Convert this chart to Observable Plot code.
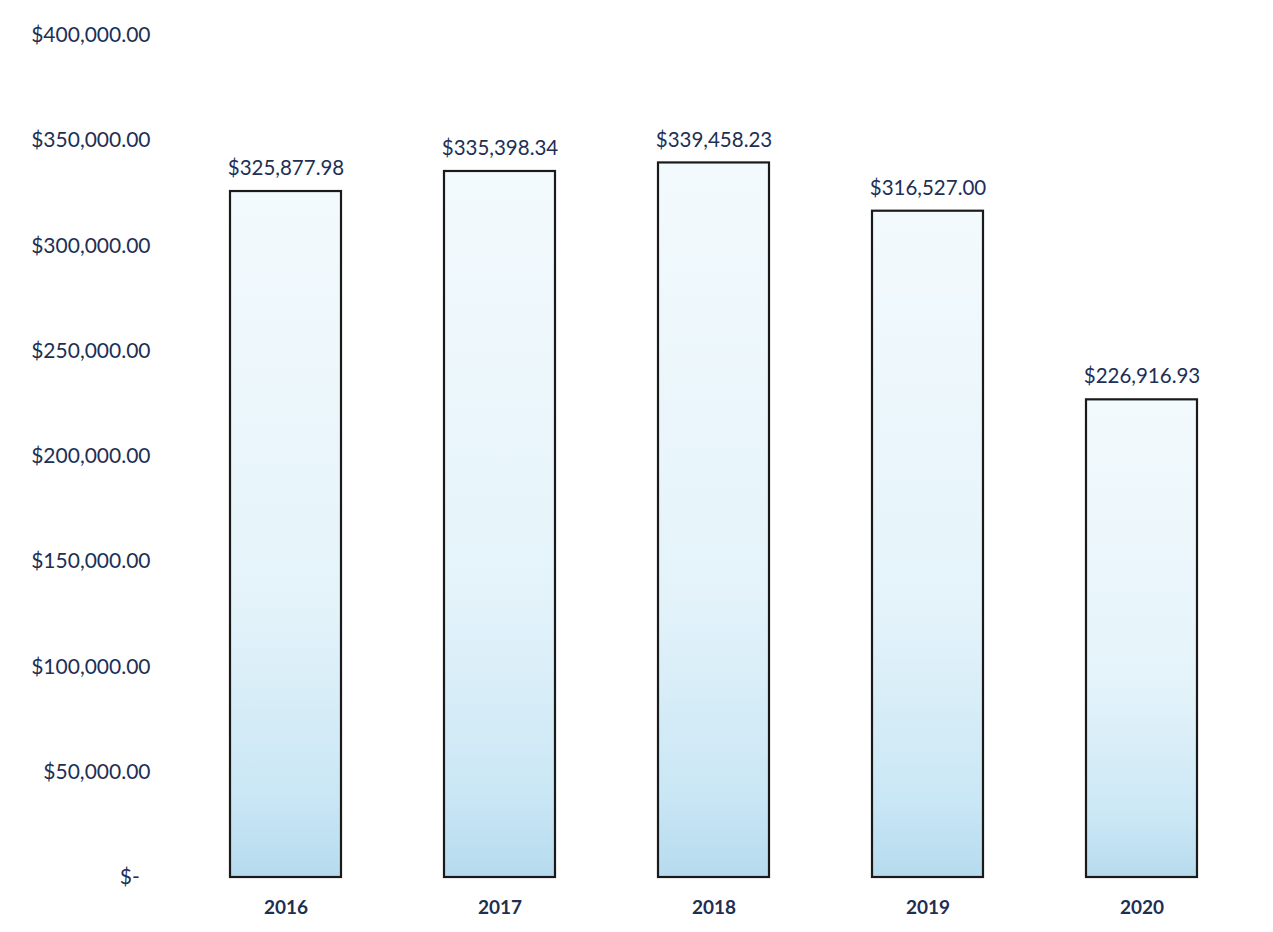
<!DOCTYPE html>
<html>
<head>
<meta charset="utf-8">
<script src="https://cdn.jsdelivr.net/npm/d3@7"></script>
<script src="https://cdn.jsdelivr.net/npm/@observablehq/plot@0.6"></script>
<style>
  html, body { margin: 0; padding: 0; background: #ffffff; }
  #chart { width: 1273px; height: 932px; }
</style>
</head>
<body>
<div id="chart"></div>
<script>
const years = ["2016", "2017", "2018", "2019", "2020"];
const amounts = [325877.98, 335398.34, 339458.23, 316527.00, 226916.93];
const yTicks = [0, 50000, 100000, 150000, 200000, 250000, 300000, 350000, 400000];

const data = years.map((y, i) => ({year: y, amount: amounts[i]}));
const money = d3.format(",.2f");
const navy = "#1e2f55";

const plot = Plot.plot({
  width: 1273,
  height: 932,
  marginTop: 35,
  marginBottom: 55,
  marginLeft: 164,
  marginRight: 10,
  style: {fontFamily: "Lato, 'Open Sans', sans-serif", background: "#ffffff"},
  x: {domain: years, paddingInner: 0.48, paddingOuter: 0.3, label: null},
  y: {domain: [0, 400000], label: null},
  marks: [
    Plot.ruleY(yTicks, {x1: 175, x2: 1245, stroke: "#e6f2f8", strokeWidth: 1}),
    Plot.axisY(yTicks, {
      tickSize: 0, tickPadding: 14, fontSize: 21, fill: navy, label: null,
      tickFormat: d => d === 0 ? "$-\u00A0\u00A0" : "$" + money(d)
    }),
    Plot.axisX({tickSize: 0, tickPadding: 23, fontSize: 19, fontWeight: "bold", fill: navy, label: null}),
    Plot.barY(data, {x: "year", y: "amount", fill: "url(#barGrad)", stroke: "#1a1a1a", strokeWidth: 2.2}),
    Plot.text(data, {x: "year", y: "amount", text: d => "$" + money(d.amount), dy: -23, fontSize: 20.5, fill: navy})
  ]
});

const svg = d3.select(plot);
const defs = svg.insert("defs", ":first-child");
const grad = defs.append("linearGradient")
  .attr("id", "barGrad").attr("x1", 0).attr("y1", 0).attr("x2", 0).attr("y2", 1);
grad.append("stop").attr("offset", "0%").attr("stop-color", "#f3fafd");
grad.append("stop").attr("offset", "60%").attr("stop-color", "#e4f3fa");
grad.append("stop").attr("offset", "88%").attr("stop-color", "#cae7f5");
grad.append("stop").attr("offset", "100%").attr("stop-color", "#b6dbee");

document.getElementById("chart").appendChild(plot);
</script>
</body>
</html>
